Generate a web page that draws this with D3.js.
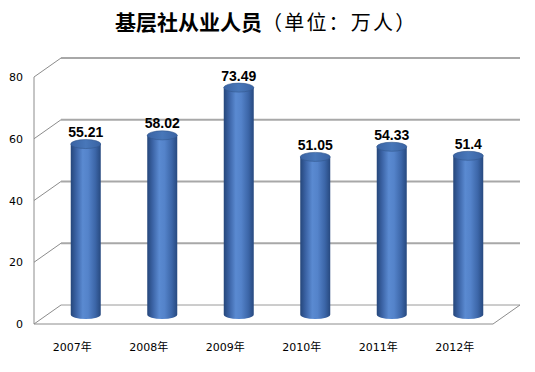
<!DOCTYPE html>
<html><head><meta charset="utf-8">
<script src="https://cdn.jsdelivr.net/npm/d3@7"></script>
<style>
html,body{margin:0;padding:0;background:#fff;}
svg{display:block;}
</style></head>
<body>
<svg id="c" width="535" height="372"></svg>
<script>
const categories = ["2007年","2008年","2009年","2010年","2011年","2012年"];
const values = [55.21, 58.02, 73.49, 51.05, 54.33, 51.4];
const valueLabels = ["55.21","58.02","73.49","51.05","54.33","51.4"];
const yTicks = [0, 20, 40, 60, 80];
const titleMain = "基层社从业人员";
const titleSub = "（单位：万人）";

const svg = d3.select("#c");
const front = {x0: 34, x1: 493};
const depth = {dx: 27, dy: -19};

const x = d3.scaleBand().domain(categories).range([front.x0, front.x1]);
const y = d3.scaleLinear().domain([0, 80]).range([324, 77]);

const defs = svg.append("defs");
const g1 = defs.append("linearGradient").attr("id","body").attr("x1","0").attr("x2","1").attr("y1","0").attr("y2","0");
[["0%","#25467a"],["18%","#3b63a5"],["40%","#5a8ad1"],["58%","#5483ca"],["82%","#3c66a8"],["100%","#27497f"]]
  .forEach(([o,c])=>g1.append("stop").attr("offset",o).attr("stop-color",c));
const g2 = defs.append("linearGradient").attr("id","top").attr("x1","0").attr("x2","1").attr("y1","0").attr("y2","0");
[["0%","#3a63a3"],["50%","#4877b9"],["100%","#3a63a3"]]
  .forEach(([o,c])=>g2.append("stop").attr("offset",o).attr("stop-color",c));

// Back wall gridlines and side wall
const grid = svg.append("g");
yTicks.forEach(t => {
  grid.append("line")
    .attr("x1", front.x0 + depth.dx).attr("x2", front.x1 + depth.dx)
    .attr("y1", y(t) + depth.dy).attr("y2", y(t) + depth.dy)
    .attr("stroke", t === 0 ? "#9a9a9a" : "#a8a8a8")
    .attr("stroke-width", t === 0 ? 1 : 1.8);
  grid.append("line")
    .attr("x1", front.x0).attr("y1", y(t))
    .attr("x2", front.x0 + depth.dx).attr("y2", y(t) + depth.dy)
    .attr("stroke", "#8c8c8c").attr("stroke-width", 1);
});
grid.append("line").attr("x1", front.x0).attr("x2", front.x0)
  .attr("y1", y(0)).attr("y2", y(80)).attr("stroke", "#8c8c8c").attr("stroke-width", 1);
grid.append("line").attr("x1", front.x0).attr("x2", front.x1)
  .attr("y1", y(0)).attr("y2", y(0)).attr("stroke", "#8c8c8c");
grid.append("line").attr("x1", front.x1).attr("y1", y(0))
  .attr("x2", front.x1 + depth.dx).attr("y2", y(0) + depth.dy).attr("stroke", "#8c8c8c");

// Cylinders at mid-depth
const hx = depth.dx / 2, hy = depth.dy / 2;
const rx = 15, ry = 4.5;
const bars = svg.append("g");
categories.forEach((c, i) => {
  const cx = x(c) + x.bandwidth() / 2 + hx;
  const base = y(0) + hy;
  const top = y(values[i]) + hy;
  bars.append("path")
    .attr("d", `M${cx - rx},${top} L${cx - rx},${base} A${rx},${ry} 0 0 0 ${cx + rx},${base} L${cx + rx},${top} Z`)
    .attr("fill", "url(#body)");
  bars.append("ellipse")
    .attr("cx", cx).attr("cy", top).attr("rx", rx).attr("ry", ry)
    .attr("fill", "url(#top)").attr("stroke", "#33578d").attr("stroke-width", 0.6);
  bars.append("text")
    .attr("x", cx).attr("y", top - 7)
    .attr("text-anchor", "middle")
    .attr("font-family", "'Liberation Sans', Arial, sans-serif")
    .attr("font-weight", "bold").attr("font-size", 14)
    .attr("fill", "#000")
    .text(valueLabels[i]);
});

// Y axis labels
const yAxis = d3.axisLeft(y).tickValues(yTicks).tickSize(0).tickPadding(11);
const ya = svg.append("g").attr("transform", `translate(${front.x0},0)`).call(yAxis);
ya.select(".domain").remove();
ya.selectAll("text").attr("font-family", "'DejaVu Sans', Verdana, sans-serif").attr("font-size", 11).attr("fill", "#000");

// X axis labels
const xAxis = d3.axisBottom(x).tickSize(0).tickPadding(19);
const xa = svg.append("g").attr("transform", `translate(0,${y(0)})`).call(xAxis);
xa.select(".domain").remove();
xa.selectAll("text").attr("font-family", "'DejaVu Sans', 'Noto Sans CJK SC', sans-serif").attr("font-size", 11).attr("fill", "#000");

// Title
const title = svg.append("text").attr("x", 115).attr("y", 30)
  .attr("font-family", "'Noto Sans CJK SC', sans-serif").attr("fill", "#000");
title.append("tspan").attr("font-weight", "bold").attr("font-size", 21).text(titleMain);
title.append("tspan").attr("font-weight", "normal").attr("font-size", 20)
  .attr("letter-spacing", 2.2).text(titleSub);
</script>
</body></html>
